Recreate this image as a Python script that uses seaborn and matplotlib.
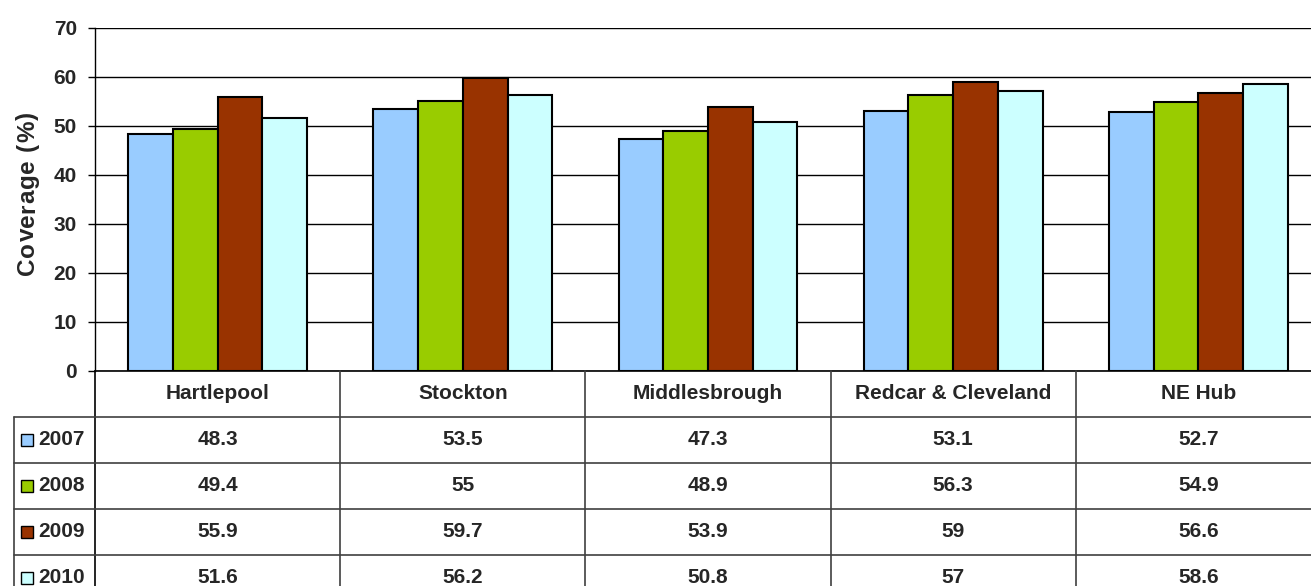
import numpy as np
import pandas as pd
import matplotlib
matplotlib.use("Agg")
import matplotlib.pyplot as plt
import matplotlib.transforms as mtransforms
from matplotlib.font_manager import FontProperties
import seaborn as sns

# ---- data -------------------------------------------------------------
areas = ["Hartlepool", "Stockton", "Middlesbrough", "Redcar & Cleveland", "NE Hub"]
years = ["2007", "2008", "2009", "2010"]
cov_2007 = [48.3, 53.5, 47.3, 53.1, 52.7]
cov_2008 = [49.4, 55, 48.9, 56.3, 54.9]
cov_2009 = [55.9, 59.7, 53.9, 59, 56.6]
cov_2010 = [51.6, 56.2, 50.8, 57, 58.6]
year_colors = ["#99CCFF", "#99CC00", "#993300", "#CCFFFF"]
y_ticks = [0, 10, 20, 30, 40, 50, 60, 70]
y_label = "Coverage (%)"

series = [cov_2007, cov_2008, cov_2009, cov_2010]
df = pd.DataFrame({
    "area": np.tile(areas, len(years)),
    "year": np.repeat(years, len(areas)),
    "coverage": np.concatenate(series),
})

# ---- style ------------------------------------------------------------
sns.set_style("white")
plt.rcParams["font.family"] = ["Liberation Sans", "DejaVu Sans"]
plt.rcParams["font.weight"] = "bold"
FS = 15

W, H = 1311, 586
fig = plt.figure(figsize=(W / 100, H / 100), dpi=100)
fig.patch.set_facecolor("white")

# the plot area runs slightly past the right edge of the canvas
left_px, right_px, top_px, zero_px = 95, 1321, 27.7, 370.7
ax = fig.add_axes([left_px / W, 1 - zero_px / H,
                   (right_px - left_px) / W, (zero_px - top_px) / H])

sns.barplot(data=df, x="area", y="coverage", hue="year", order=areas,
            hue_order=years, palette=year_colors, saturation=1,
            width=0.73, gap=0, edgecolor="black", linewidth=1.5,
            legend=False, ax=ax)

ax.set_ylim(0, 70)
ax.set_xlim(-0.5, len(areas) - 0.5)
ax.set_yticks(y_ticks)
ax.set_yticklabels([str(t) for t in y_ticks], fontsize=FS, fontweight="bold")
ax.set_xticks([])
ax.set_xlabel("")
ax.set_ylabel("")
ax.yaxis.grid(True, color="black", linewidth=1)
ax.set_axisbelow(True)
ax.tick_params(axis="y", length=5, width=1, color="black", pad=8, left=True)
for side in ["top", "right"]:
    ax.spines[side].set_visible(False)
ax.spines["left"].set_color("black")
ax.spines["bottom"].set_color("black")
ax.spines["left"].set_linewidth(1)
ax.spines["bottom"].set_linewidth(1.2)

# ---- data table under the bars ---------------------------------------
tab = fig.add_axes([0, 0, 1, 1], facecolor="none")
tab.set_xlim(0, W)
tab.set_ylim(H, 0)
tab.axis("off")
# x in category units of the bar axes, y in figure pixels
bt = mtransforms.blended_transform_factory(ax.transData, tab.transData)

line_c = "#404040"
header_top = zero_px
row_h = 46
header_bottom = header_top + row_h
row_tops = [header_bottom + i * row_h for i in range(len(years))]
legend_left = 14

n = len(areas)
# column boundaries between categories
for i in range(n + 1):
    tab.plot([i - 0.5, i - 0.5], [header_top, H + 20],
             color=line_c if 0 < i < n else "black",
             lw=1.2, transform=bt, clip_on=False)
# horizontal rules
for yv in row_tops:
    tab.plot([legend_left, W], [yv, yv], color=line_c, lw=1.2)
tab.plot([legend_left, legend_left], [row_tops[0], H + 20], color=line_c, lw=1.2)

# header: area names
for i, name in enumerate(areas):
    tab.text(i, header_top + row_h / 2, name, transform=bt, ha="center", va="center",
             fontsize=FS, fontweight="bold")

# rows: legend key + values
for r, (yr, col, vals) in enumerate(zip(years, year_colors, series)):
    yc = row_tops[r] + row_h / 2
    tab.add_patch(plt.Rectangle((21, yc - 6), 12, 12, facecolor=col,
                                edgecolor="black", lw=1))
    tab.text(38, yc, yr, ha="left", va="center", fontsize=FS, fontweight="bold")
    for i, v in enumerate(vals):
        tab.text(i, yc, f"{v:g}", transform=bt, ha="center", va="center",
                 fontsize=FS, fontweight="bold")

# ---- rotated y-axis title with letter spacing --------------------------
renderer = fig.canvas.get_renderer()
fp = FontProperties(family=["Liberation Sans", "DejaVu Sans"], weight="bold", size=17.5)
adv = [renderer.get_text_width_height_descent(ch, fp, ismath=False)[0] for ch in y_label]
label_bottom, label_top = 275, 112
spacing = ((label_bottom - label_top) - sum(adv)) / (len(y_label) - 1)
pos = label_bottom
for ch, a in zip(y_label, adv):
    tab.text(34, pos, ch, rotation=90, rotation_mode="anchor", ha="left",
             va="baseline", fontproperties=fp)
    pos -= a + spacing

fig.savefig("out.png", dpi=100, facecolor="white")
